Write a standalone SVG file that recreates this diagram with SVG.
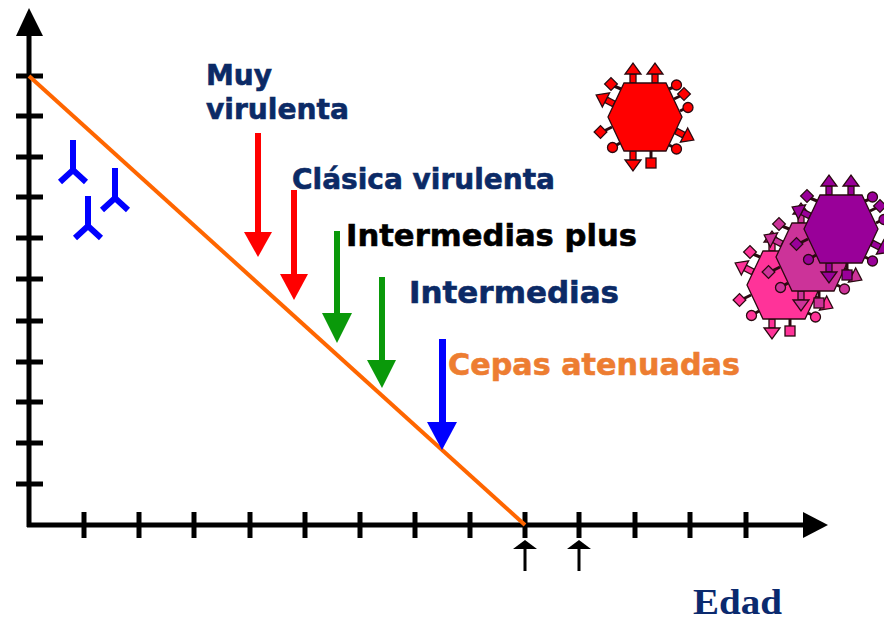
<svg xmlns="http://www.w3.org/2000/svg" xmlns:xlink="http://www.w3.org/1999/xlink" width="884" height="621" viewBox="0 0 884 621">
  <style>
    .axis { stroke: #000; stroke-width: 5; fill: none; }
    .tick { stroke: #000; stroke-width: 5; }
    .lbl { font-family: "DejaVu Sans", Verdana, sans-serif; font-weight: bold; font-size: 28px; stroke-width: 0.6; }
    .big { font-size: 31px; }
    .navy { fill: #0b2a66; stroke: #0b2a66; }
    .ab { stroke: #0000ff; stroke-width: 6; fill: none; stroke-linejoin: miter; }
    .vs { stroke: #2a0a10; stroke-width: 1.3; }
    .stem { stroke-width: 3; }
  </style>
  <defs>
    <!-- small outward arrow, base at origin, pointing up -->
    <g id="spike">
      <rect x="-3" y="-9" width="6" height="9"/>
      <polygon points="-8,-9 8,-9 0,-20"/>
    </g>
    <!-- hexagonal virion with surface projections; fill comes from the <use> -->
    <g id="virus" class="vs">
      <use xlink:href="#spike" transform="translate(-12,-34)"/>
      <use xlink:href="#spike" transform="translate(10,-34)"/>
      <use xlink:href="#spike" transform="translate(-12,34) rotate(180)"/>
      <use xlink:href="#spike" transform="translate(-31,-13) rotate(-63)"/>
      <use xlink:href="#spike" transform="translate(31,14) rotate(117)"/>
      <line class="stem" x1="6" y1="34" x2="6" y2="42"/>
      <rect x="1" y="41" width="10" height="10"/>
      <line class="stem" x1="-24" y1="-28" x2="-31" y2="-31"/>
      <rect x="-38.5" y="-37.5" width="9" height="9" transform="rotate(45 -34 -33)"/>
      <line class="stem" x1="-33" y1="10" x2="-41" y2="14"/>
      <rect x="-49" y="10.5" width="9" height="9" transform="rotate(45 -44.5 15)"/>
      <line class="stem" x1="-25" y1="26" x2="-30" y2="29"/>
      <circle cx="-32.5" cy="30.5" r="5"/>
      <line class="stem" x1="24" y1="-28" x2="29" y2="-30"/>
      <circle cx="31.5" cy="-32" r="5"/>
      <line class="stem" x1="29" y1="-18" x2="35" y2="-21"/>
      <rect x="34.5" y="-27.5" width="9" height="9" transform="rotate(45 39 -23)"/>
      <line class="stem" x1="35" y1="-6" x2="40" y2="-8.5"/>
      <circle cx="43" cy="-9.5" r="5"/>
      <line class="stem" x1="24" y1="28" x2="29" y2="30.5"/>
      <circle cx="31.5" cy="32" r="5"/>
      <polygon points="-21,-34 21,-34 37,0 21,34 -21,34 -37,0"/>
    </g>
    <!-- antibody (Y shape, upside down) -->
    <path id="antibody" d="M0,-30 V0 M-13,12 L0,0 L13,12"/>
  </defs>

  <!-- axes -->
  <g id="axes">
    <line class="axis" x1="29" y1="527" x2="29" y2="32"/>
    <polygon points="16,36 43,36 29,8" fill="#000"/>
    <line class="axis" x1="27" y1="525" x2="805" y2="525"/>
    <polygon points="803,512 803,538 828,525" fill="#000"/>
    <g id="y-ticks" class="tick">
      <line x1="16" y1="76" x2="43" y2="76"/>
      <line x1="16" y1="116" x2="43" y2="116"/>
      <line x1="16" y1="157" x2="43" y2="157"/>
      <line x1="16" y1="197" x2="43" y2="197"/>
      <line x1="16" y1="238" x2="43" y2="238"/>
      <line x1="16" y1="279" x2="43" y2="279"/>
      <line x1="16" y1="321" x2="43" y2="321"/>
      <line x1="16" y1="362" x2="43" y2="362"/>
      <line x1="16" y1="402" x2="43" y2="402"/>
      <line x1="16" y1="443" x2="43" y2="443"/>
      <line x1="16" y1="484" x2="43" y2="484"/>
    </g>
    <g id="x-ticks" class="tick">
      <line x1="84" y1="512" x2="84" y2="538"/>
      <line x1="139" y1="512" x2="139" y2="538"/>
      <line x1="194" y1="512" x2="194" y2="538"/>
      <line x1="250" y1="512" x2="250" y2="538"/>
      <line x1="305" y1="512" x2="305" y2="538"/>
      <line x1="360" y1="512" x2="360" y2="538"/>
      <line x1="415" y1="512" x2="415" y2="538"/>
      <line x1="470" y1="512" x2="470" y2="538"/>
      <line x1="525" y1="512" x2="525" y2="538"/>
      <line x1="579" y1="512" x2="579" y2="538"/>
      <line x1="635" y1="512" x2="635" y2="538"/>
      <line x1="690" y1="512" x2="690" y2="538"/>
      <line x1="746" y1="512" x2="746" y2="538"/>
    </g>
    <!-- markers under the age axis -->
    <g id="age-markers" fill="#000">
      <rect x="523.5" y="546" width="3" height="25"/>
      <polygon points="513,549 537,549 525,540"/>
      <rect x="577.5" y="546" width="3" height="25"/>
      <polygon points="567,549 591,549 579,540"/>
    </g>
  </g>

  <!-- immunity decline line -->
  <g id="decline">
    <line x1="29" y1="76" x2="525" y2="525" stroke="#ff6600" stroke-width="4"/>
  </g>

  <!-- antibodies -->
  <g id="antibodies" class="ab">
    <use xlink:href="#antibody" transform="translate(73,170)"/>
    <use xlink:href="#antibody" transform="translate(115,198)"/>
    <use xlink:href="#antibody" transform="translate(88,226)"/>
  </g>

  <!-- strain arrows -->
  <g id="connectors">
    <g id="arrow-muy" fill="#ff0000">
      <rect x="255" y="133" width="6" height="100"/>
      <polygon points="244,232 272,232 258,257"/>
    </g>
    <g id="arrow-clasica" fill="#ff0000">
      <rect x="291" y="190" width="6" height="85"/>
      <polygon points="280,274 308,274 294,300"/>
    </g>
    <g id="arrow-plus" fill="#0a990a">
      <rect x="334" y="231" width="6" height="83"/>
      <polygon points="322,313 352,313 337,343"/>
    </g>
    <g id="arrow-intermedias" fill="#0a990a">
      <rect x="379" y="277" width="6" height="84"/>
      <polygon points="367,360 396,360 382,388"/>
    </g>
    <g id="arrow-atenuadas" fill="#0000ff">
      <rect x="439" y="339" width="7" height="84"/>
      <polygon points="427,422 457,422 442,450"/>
    </g>
  </g>

  <!-- labels -->
  <g id="label-muy" class="lbl navy">
    <text x="206" y="85" textLength="66" lengthAdjust="spacingAndGlyphs">Muy</text>
    <text x="206" y="119" textLength="143" lengthAdjust="spacingAndGlyphs">virulenta</text>
  </g>
  <g id="label-clasica" class="lbl navy">
    <text x="292" y="189" textLength="263" lengthAdjust="spacingAndGlyphs">Clásica virulenta</text>
  </g>
  <g id="label-plus" class="lbl big" fill="#000" stroke="#000">
    <text x="346" y="246" textLength="291" lengthAdjust="spacingAndGlyphs">Intermedias plus</text>
  </g>
  <g id="label-intermedias" class="lbl big navy">
    <text x="409" y="303" textLength="210" lengthAdjust="spacingAndGlyphs">Intermedias</text>
  </g>
  <g id="label-atenuadas" class="lbl big" fill="#ed7d31" stroke="#ed7d31">
    <text x="448" y="375" textLength="292" lengthAdjust="spacingAndGlyphs">Cepas atenuadas</text>
  </g>
  <g id="label-edad">
    <text x="693" y="614" font-family="'Liberation Serif', 'Times New Roman', serif" font-weight="bold" font-size="36" fill="#0b2a6e" textLength="89" lengthAdjust="spacingAndGlyphs">Edad</text>
  </g>

  <!-- virions -->
  <g id="virus-red">
    <use xlink:href="#virus" transform="translate(645,117)" fill="#ff0000"/>
  </g>
  <g id="virus-cluster">
    <use xlink:href="#virus" transform="translate(784,285)" fill="#ff3399"/>
    <use xlink:href="#virus" transform="translate(813,257)" fill="#cc3399"/>
    <use xlink:href="#virus" transform="translate(841,229)" fill="#990099"/>
  </g>
</svg>
